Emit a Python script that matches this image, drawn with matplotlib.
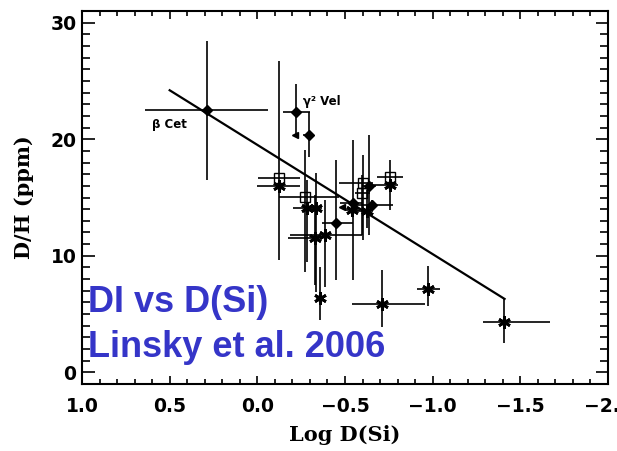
import numpy as np
import matplotlib
matplotlib.use("Agg")
import matplotlib.pyplot as plt
from matplotlib.ticker import MultipleLocator, FixedLocator

# ---------------- data ----------------
# kind: 'f' filled diamond, 's' open square, 'a' asterisk
kind = ['f', 'f', 'f', 's', 'a', 's', 'a', 'a', 'a', 'a', 'a', 'f',
        's', 's', 'f', 'f', 'f', 'a', 'a', 's', 'a', 'a', 'a', 'a']
x_val = [0.287, -0.221, -0.295, -0.124, -0.124, -0.272, -0.284, -0.335,
         -0.329, -0.386, -0.358, -0.449, -0.603, -0.597, -0.637, -0.546,
         -0.654, -0.626, -0.540, -0.757, -0.757, -0.711, -0.974, -1.407]
y_val = [22.5, 22.3, 20.4, 16.7, 16.0, 15.05, 14.1, 14.1,
         11.5, 11.8, 6.4, 12.8, 16.25, 15.4, 16.0, 14.5,
         14.36, 13.84, 13.93, 16.77, 16.08, 5.85, 7.14, 4.3]
x_min = [-0.061, -0.301, -0.318, -0.244, -0.244, -0.466, -0.341, -0.369,
         -0.375, -0.597, -0.380, -0.546, -0.660, -0.643, -0.677, -0.597,
         -0.774, -0.660, -0.586, -0.831, -0.803, -0.957, -1.042, -1.670]
x_max = [0.641, -0.147, -0.261, -0.004, 0.002, -0.124, -0.204, -0.301,
         -0.175, -0.187, -0.335, -0.369, -0.466, -0.557, -0.597, -0.472,
         -0.569, -0.557, -0.500, -0.683, -0.654, -0.540, -0.911, -1.287]
y_min = [16.5, 20.2, 18.5, 9.6, 16.0, 8.6, 9.46, 6.88,
         7.48, 7.31, 4.47, 7.91, 11.35, 11.78, 11.78, 7.91,
         13.93, 12.38, 13.93, 13.93, 16.08, 3.87, 5.67, 2.49]
y_max = [28.4, 24.7, 22.3, 26.7, 16.0, 19.1, 16.5, 17.1,
         15.2, 14.8, 9.03, 18.2, 18.66, 16.94, 20.38, 19.95,
         14.79, 15.65, 13.93, 18.23, 16.08, 8.77, 9.11, 6.28]

# left-pointing limit arrows
arrow_x = [-0.215, -0.483]
arrow_y = [20.4, 14.2]

# fitted line
fit_x = [0.50, -1.41]
fit_y = [24.2, 6.3]

star_labels = ["β Cet", "γ² Vel"]
star_lab_x = [0.60, -0.26]
star_lab_y = [21.0, 22.9]

x_ticks = [1.0, 0.5, 0.0, -0.5, -1.0, -1.5, -2.0]
x_ticklabels = ["1.0", "0.5", "0.0", "\u22120.5", "\u22121.0", "\u22121.5", "\u22122.0"]
y_ticks = [0, 10, 20, 30]
y_ticklabels = ["0", "10", "20", "30"]

# ---------------- figure ----------------
W, H = 617, 451
fig = plt.figure(figsize=(W / 100, H / 100), dpi=100)
ax = fig.add_axes([82 / W, 1 - 384 / H, (608 - 82) / W, (384 - 11) / H])

ax.set_xlim(1.0, -2.0)
ax.set_ylim(-1, 31)

# fit line
ax.plot(fit_x, fit_y, color='black', lw=1.6, zorder=2)

markers = {'f': dict(marker='D', ms=5.5, mfc='black', mec='black'),
           's': dict(marker='s', ms=7, mfc='none', mec='black', mew=1.0),
           'a': dict(marker=(6, 2, 0), ms=9, mfc='black', mec='black', mew=2.0)}

for k, xv, yv, x0, x1, y0, y1 in zip(kind, x_val, y_val, x_min, x_max, y_min, y_max):
    ax.errorbar([xv], [yv],
                xerr=[[xv - x0], [x1 - xv]],
                yerr=[[yv - y0], [y1 - yv]],
                fmt='none', ecolor='black', elinewidth=1.2, capsize=0, zorder=3)
    ax.plot([xv], [yv], ls='none', zorder=4, **markers[k])

ax.plot(arrow_x, arrow_y, ls='none', marker='<', ms=5, color='black', zorder=4)

for s, tx, ty in zip(star_labels, star_lab_x, star_lab_y):
    ax.text(tx, ty, s, fontsize=8.5, fontweight='bold', family='DejaVu Sans',
            ha='left', va='baseline', zorder=5)

# ticks
ax.xaxis.set_major_locator(FixedLocator(x_ticks))
ax.set_xticklabels(x_ticklabels)
ax.xaxis.set_minor_locator(MultipleLocator(0.1))
ax.yaxis.set_major_locator(FixedLocator(y_ticks))
ax.set_yticklabels(y_ticklabels)
ax.yaxis.set_minor_locator(MultipleLocator(1))

ax.tick_params(axis='both', which='both', direction='in', top=True, right=True,
               width=1.2, colors='black')
ax.tick_params(axis='x', which='major', length=6, pad=9, labelsize=13.5)
ax.tick_params(axis='x', which='minor', length=3.5)
ax.tick_params(axis='y', which='major', length=9, pad=4, labelsize=13.5)
ax.tick_params(axis='y', which='minor', length=5.5)
for lab in ax.get_xticklabels() + ax.get_yticklabels():
    lab.set_fontweight('bold')
    lab.set_clip_on(False)

for sp in ax.spines.values():
    sp.set_linewidth(1.5)

# axis labels
fig.text(345 / W, 1 - 435 / H, "Log D(Si)", family='DejaVu Serif', fontweight='bold',
         fontsize=15, ha='center', va='center')
fig.text(24 / W, 1 - 197 / H, "D/H (ppm)", family='DejaVu Serif', fontweight='bold',
         fontsize=15, ha='center', va='center', rotation=90)

# overlay caption
blue = '#3535C8'
fig.text(88 / W, 1 - 312 / H, "DI vs D(Si)", family='Liberation Sans', fontweight='bold',
         fontsize=26, color=blue, ha='left', va='baseline')
fig.text(88 / W, 1 - 357 / H, "Linsky et al. 2006", family='Liberation Sans', fontweight='bold',
         fontsize=26, color=blue, ha='left', va='baseline')

fig.savefig("out.png", dpi=100)
